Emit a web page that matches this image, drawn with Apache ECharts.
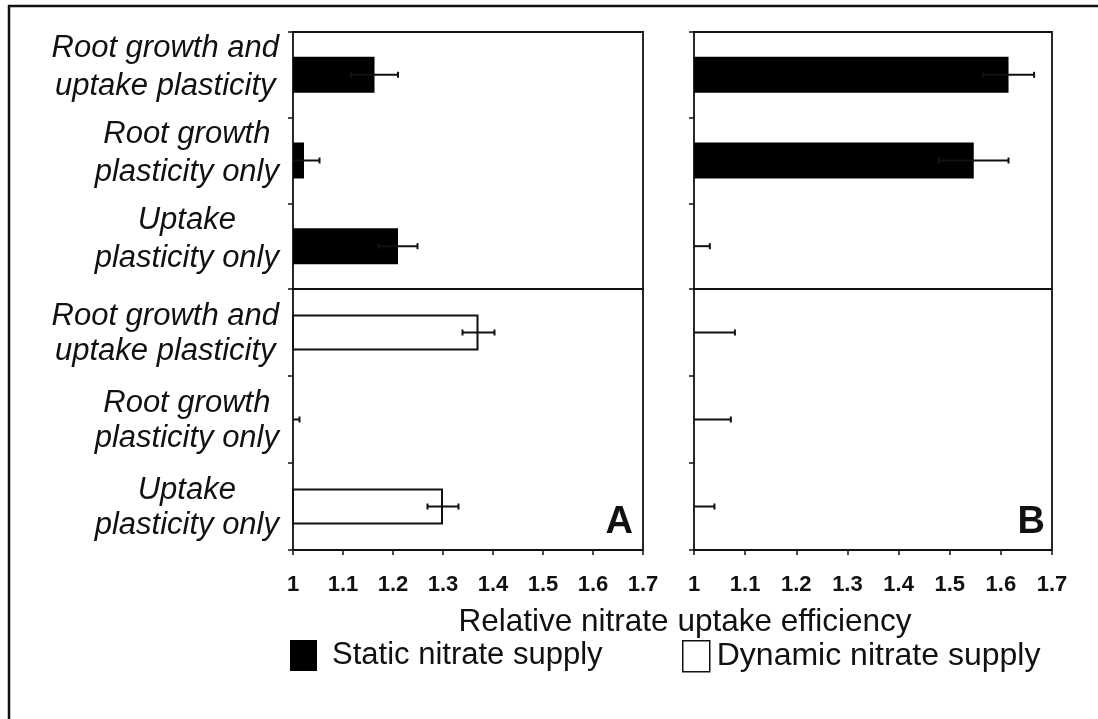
<!DOCTYPE html>
<html>
<head>
<meta charset="utf-8">
<script src="https://cdn.jsdelivr.net/npm/echarts@6/dist/echarts.min.js"></script>
<style>
html,body{margin:0;padding:0;background:#fff;}
#chart{width:1098px;height:719px;}
</style>
</head>
<body>
<div id="chart"></div>
<script>
// ---- data ----
const categories = ['Root growth and\nuptake plasticity', 'Root growth\nplasticity only', 'Uptake\nplasticity only'];
const xTickLabels = ['1', '1.1', '1.2', '1.3', '1.4', '1.5', '1.6', '1.7'];
const seriesNames = ['Static nitrate supply', 'Dynamic nitrate supply'];
const panelLabels = ['A', 'B'];
const axisTitle = 'Relative nitrate uptake efficiency';

const aStatic = [1.163, 1.022, 1.21];
const aStaticErr = [0.047, 0.031, 0.039];
const aDynamic = [1.371, 1.0, 1.30];
const aDynamicErr = [0.032, 0.013, 0.031];
const bStatic = [1.615, 1.547, 1.0];
const bStaticErr = [0.05, 0.068, 0.031];
const bDynamic = [1.0, 1.0, 1.0];
const bDynamicErr = [0.08, 0.072, 0.04];

// ---- chart ----
const INK = '#111';
const FONT = 'Liberation Sans, Arial, sans-serif';
const chart = echarts.init(document.getElementById('chart'), null, {renderer: 'canvas'});

const grids = [
  {left: 293, top: 32, width: 350, height: 257},
  {left: 293, top: 289, width: 350, height: 261},
  {left: 694, top: 32, width: 358, height: 257},
  {left: 694, top: 289, width: 358, height: 261}
].map(g => Object.assign({show: true, borderColor: INK, borderWidth: 1.8, backgroundColor: 'transparent'}, g));

const isBottom = i => i === 1 || i === 3;
const isLeft = i => i === 0 || i === 1;

const xAxes = grids.map((g, i) => ({
  type: 'value', gridIndex: i, min: 1, max: 1.7, interval: 0.1,
  splitLine: {show: false},
  axisLine: {show: false},
  axisTick: {show: isBottom(i), length: 5, lineStyle: {color: INK, width: 1.5}},
  axisLabel: {
    show: isBottom(i), margin: 24, color: INK, fontSize: 22, fontWeight: 'bold',
    fontFamily: FONT,
    formatter: v => xTickLabels[Math.round((v - 1) * 10)]
  }
}));

const yAxes = grids.map((g, i) => ({
  type: 'category', gridIndex: i, data: categories, inverse: true,
  axisLine: {show: false},
  axisTick: {show: true, length: 5, inside: false, lineStyle: {color: INK, width: 1.5}},
  axisLabel: {
    show: isLeft(i), margin: 14, align: 'right',
    padding: i === 0 ? [0, 0, 14, 0] : [2, 0, 0, 0],
    formatter: v => v.split('\n').map(s => '{c|' + s + '}').join('\n'),
    rich: {
      c: {align: 'center', fontSize: 31, fontStyle: 'italic', lineHeight: i === 0 ? 38 : 35,
          fontFamily: FONT, color: INK}
    }
  }
}));

function barSeries(name, idx, vals, dark) {
  return {
    type: 'bar', name: name, xAxisIndex: idx, yAxisIndex: idx, data: vals,
    barWidth: 36,
    itemStyle: dark ? {color: '#000'} : {color: '#fff', borderColor: INK, borderWidth: 2},
    silent: true
  };
}

function errSeries(idx, vals, errs) {
  return {
    type: 'custom', name: 'err' + idx, xAxisIndex: idx, yAxisIndex: idx,
    data: vals.map((v, i) => [i, v, errs[i]]),
    encode: {y: 0, x: 1},
    silent: true, z: 5,
    renderItem: (params, api) => {
      const cat = api.value(0), v = api.value(1), e = api.value(2);
      const lo = Math.max(1, v - e), hi = v + e;
      const pLo = api.coord([lo, cat]);
      const pHi = api.coord([hi, cat]);
      const y = pLo[1], h = 3;
      const st = {stroke: INK, lineWidth: 2};
      const children = [
        {type: 'line', shape: {x1: pLo[0], y1: y, x2: pHi[0], y2: y}, style: st},
        {type: 'line', shape: {x1: pHi[0], y1: y - h, x2: pHi[0], y2: y + h}, style: st}
      ];
      if (v - e > 1) {
        children.push({type: 'line', shape: {x1: pLo[0], y1: y - h, x2: pLo[0], y2: y + h}, style: st});
      }
      return {type: 'group', children: children};
    }
  };
}

const option = {
  animation: false,
  backgroundColor: '#fff',
  grid: grids,
  xAxis: xAxes,
  yAxis: yAxes,
  legend: [
    {left: 290, top: 640, padding: 0, itemWidth: 27, itemHeight: 31, icon: 'rect',
     data: [{name: seriesNames[0], itemStyle: {color: '#000'}}],
     textStyle: {fontSize: 31, color: INK, fontFamily: FONT, padding: [0, 0, 0, 10]}, selectedMode: false},
    {left: 682, top: 640, padding: 0, itemWidth: 27, itemHeight: 31, icon: 'rect',
     data: [{name: seriesNames[1], itemStyle: {color: '#fff', borderColor: INK, borderWidth: 1.5}}],
     textStyle: {fontSize: 32, color: INK, fontFamily: FONT, padding: [0, 0, 0, 2]}, selectedMode: false}
  ],
  graphic: [
    {type: 'rect', shape: {x: 9, y: 6, width: 1200, height: 800}, style: {fill: 'none', stroke: INK, lineWidth: 2.5}, silent: true, z: 100},
    {type: 'text', style: {text: axisTitle, x: 685, y: 622, textAlign: 'center', textVerticalAlign: 'middle',
      fontSize: 31.5, fontFamily: FONT, fill: INK}},
    {type: 'text', style: {text: panelLabels[0], x: 633, y: 523, textAlign: 'right', textVerticalAlign: 'middle',
      fontSize: 38, fontWeight: 'bold', fontFamily: FONT, fill: INK}},
    {type: 'text', style: {text: panelLabels[1], x: 1045, y: 523, textAlign: 'right', textVerticalAlign: 'middle',
      fontSize: 38, fontWeight: 'bold', fontFamily: FONT, fill: INK}}
  ],
  series: [
    barSeries(seriesNames[0], 0, aStatic, true),
    barSeries(seriesNames[1], 1, aDynamic, false),
    barSeries(seriesNames[0], 2, bStatic, true),
    barSeries(seriesNames[1], 3, bDynamic, false),
    errSeries(0, aStatic, aStaticErr),
    errSeries(1, aDynamic, aDynamicErr),
    errSeries(2, bStatic, bStaticErr),
    errSeries(3, bDynamic, bDynamicErr)
  ]
};
chart.setOption(option);
</script>
</body>
</html>
